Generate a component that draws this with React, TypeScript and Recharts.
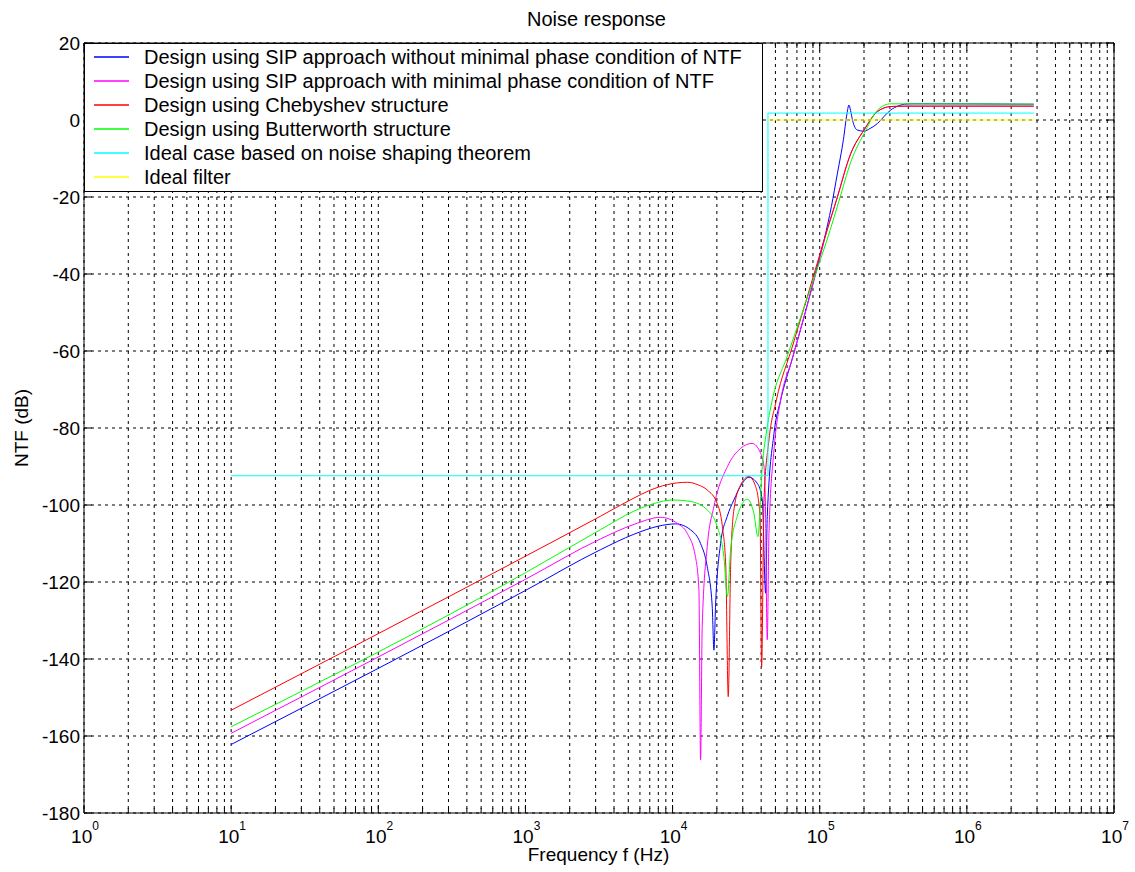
import React from "react";
import {
  LineChart,
  Line,
  XAxis,
  YAxis,
  CartesianGrid,
  ReferenceLine,
} from "recharts";

// frequency (Hz) / NTF (dB), one pair of arrays per curve
const BLUE_F = [10, 1000, 3240, 5460, 8000, 10500, 13300, 15500, 17200, 18600, 19100, 19600, 21200, 23500, 26100, 29500, 33000, 37700, 40700, 42900, 44000, 48900, 54300, 65000, 80000, 100000, 107000, 120000, 132000, 145000, 153000, 158000, 162000, 167000, 180000, 200000, 220000, 247000, 275000, 304000, 340000, 375000, 440000, 2850000];
const BLUE_DB = [-162.2, -122.2, -111.6, -107.6, -105.5, -104.9, -106.5, -110, -116, -126.4, -137.7, -126, -110, -103, -98.7, -94.6, -92.8, -94.4, -98.7, -122.9, -103, -81.4, -72.7, -62.1, -49.8, -35.5, -31.2, -22.5, -13.8, -5, 1.5, 3.9, 2.5, 0, -2.6, -2.9, -2.2, -0.9, 1, 2.6, 3.6, 4.1, 4.2, 4.1];

const MAGENTA_F = [10, 1000, 3240, 5500, 8280, 10800, 12600, 14300, 15100, 15500, 15900, 17200, 19100, 23600, 29000, 34700, 39700, 41800, 42700, 44000, 45200, 48900, 54300, 65000, 80000, 100000, 107000, 130000, 163000, 200000, 247000, 304000, 400000, 2850000];
const MAGENTA_DB = [-159.3, -119.3, -108.8, -105, -103.2, -104.8, -107.4, -113.4, -122, -166.2, -131.6, -110.8, -100.4, -90, -85.3, -84, -86.6, -90, -98.7, -135, -107.3, -85.7, -72.7, -62.1, -49.8, -36, -31.5, -20.8, -8.6, -2.6, 2.2, 3.5, 3.6, 3.6];

const RED_F = [10, 1000, 3240, 5460, 7000, 9200, 12600, 15000, 17200, 20100, 21800, 23000, 23900, 24800, 26100, 29000, 33000, 36700, 39300, 40300, 41800, 45200, 50800, 65000, 80000, 100000, 107000, 130000, 163000, 200000, 247000, 304000, 400000, 2850000];
const RED_DB = [-153.3, -113.3, -102.9, -98.2, -96.2, -94.7, -94.1, -94.8, -96.1, -99.6, -105.6, -116, -149.8, -116, -101.3, -94.8, -92.6, -95.2, -103, -142, -98.7, -83.1, -72.7, -59, -47.5, -35, -31.2, -20.8, -8.6, -2.6, 2.2, 3.5, 3.6, 3.6];

const GREEN_F = [10, 1000, 3240, 5460, 7500, 10000, 13300, 17200, 20100, 22300, 23600, 24800, 27500, 32200, 35700, 38000, 40700, 44000, 47600, 60000, 80000, 100000, 112000, 135000, 163000, 206000, 247000, 304000, 2850000];
const GREEN_DB = [-157.6, -117.6, -106.4, -101.6, -99.6, -98.7, -99.1, -101.3, -105.6, -113.4, -123.8, -111.7, -103, -98.5, -102.2, -108.2, -90, -79.7, -72.7, -61.5, -47.6, -36.8, -31.2, -21.1, -10.8, -2.6, 2.6, 4.2, 4.1];

const CYAN_F = [10, 44500, 44500, 2850000];
const CYAN_DB = [-92.4, -92.4, 1.8, 1.8];

const YELLOW_F = [44500, 2850000];
const YELLOW_DB = [0, 0];

const LEGEND_NAMES = [
  "Design using SIP approach without minimal phase condition of NTF",
  "Design using SIP approach with minimal phase condition of NTF",
  "Design using Chebyshev structure",
  "Design using Butterworth structure",
  "Ideal case based on noise shaping theorem",
  "Ideal filter",
];
const COLORS = ["#0000ff", "#ff00ff", "#ff0000", "#00ff00", "#00ffff", "#ffff00"];

const Y_TICKS = [-180, -160, -140, -120, -100, -80, -60, -40, -20, 0, 20];
const X_TICKS: number[] = [];
for (let k = 0; k < 7; k++) {
  for (let m = 1; m < 10; m++) X_TICKS.push(m * Math.pow(10, k));
}
X_TICKS.push(1e7);

const W = 1135;
const H = 872;
const TOP = 43;
const LEFT = 84;
const RIGHT = 21;
const BOTTOM = 59;
const FONT = "'Liberation Sans', Arial, Helvetica, sans-serif";

const zip = (f: number[], db: number[]) => f.map((x, i) => ({ f: x, db: db[i] }));

const SERIES = [
  zip(BLUE_F, BLUE_DB),
  zip(MAGENTA_F, MAGENTA_DB),
  zip(RED_F, RED_DB),
  zip(GREEN_F, GREEN_DB),
  zip(CYAN_F, CYAN_DB),
  zip(YELLOW_F, YELLOW_DB),
];

function XTick(props: any) {
  const { x, y, payload } = props;
  const k = Math.log10(payload.value);
  const major = Math.abs(k - Math.round(k)) < 1e-9;
  const len = major ? 8 : 5;
  return (
    <g>
      <line x1={x} y1={y} x2={x} y2={y - len} stroke="#000" />
      <line x1={x} y1={TOP} x2={x} y2={TOP + len} stroke="#000" />
      {major && (
        <text x={x + 1} y={y + 30} textAnchor="middle" fontSize={19} fontFamily={FONT} fill="#000">
          <tspan>10</tspan>
          <tspan dy={-13} fontSize={12}>{Math.round(k)}</tspan>
        </text>
      )}
    </g>
  );
}

function YTick(props: any) {
  const { x, y, payload } = props;
  const right = W - RIGHT;
  return (
    <g>
      <line x1={x} y1={y} x2={x + 8} y2={y} stroke="#000" />
      <line x1={right} y1={y} x2={right - 8} y2={y} stroke="#000" />
      <text x={x - 4} y={y} dy="0.36em" textAnchor="end" fontSize={19} fontFamily={FONT} fill="#000">
        {payload.value}
      </text>
    </g>
  );
}

export default function App() {
  return (
    <div
      style={{
        position: "absolute",
        left: 0,
        top: 0,
        width: W,
        height: H,
        background: "#fff",
        fontFamily: FONT,
      }}
    >
      <LineChart
        width={W}
        height={H}
        margin={{ top: TOP, right: RIGHT, bottom: 0, left: 0 }}
      >
        <CartesianGrid stroke="#000" strokeDasharray="3 4" strokeWidth={1} />
        <XAxis
          dataKey="f"
          type="number"
          scale="log"
          domain={[1, 1e7]}
          allowDataOverflow
          ticks={X_TICKS}
          interval={0}
          height={BOTTOM}
          tickSize={0}
          tickMargin={0}
          tickLine={false}
          axisLine={{ stroke: "#000" }}
          tick={<XTick />}
        />
        <YAxis
          type="number"
          domain={[-180, 20]}
          allowDataOverflow
          ticks={Y_TICKS}
          interval={0}
          width={LEFT}
          tickSize={0}
          tickMargin={0}
          tickLine={false}
          axisLine={{ stroke: "#000" }}
          tick={<YTick />}
        />
        <ReferenceLine x={1e7} stroke="#000" />
        <ReferenceLine y={20} stroke="#000" />
        {SERIES.map((d, i) => (
          <Line
            key={i}
            data={d}
            dataKey="db"
            type={i < 4 ? "monotone" : "linear"}
            stroke={COLORS[i]}
            strokeWidth={1}
            dot={false}
            activeDot={false}
            isAnimationActive={false}
          />
        ))}
      </LineChart>

      <div
        style={{
          position: "absolute",
          left: 0,
          width: W,
          top: 9,
          textAlign: "center",
          fontSize: 20,
          lineHeight: "20px",
          paddingLeft: 58,
          boxSizing: "border-box",
        }}
      >
        Noise response
      </div>
      <div
        style={{
          position: "absolute",
          left: 0,
          width: W,
          top: 845,
          textAlign: "center",
          fontSize: 19,
          lineHeight: "19px",
          paddingLeft: 62,
          boxSizing: "border-box",
        }}
      >
        Frequency f (Hz)
      </div>
      <div
        style={{
          position: "absolute",
          left: 22 - 60,
          top: 428 - 10,
          width: 120,
          height: 20,
          lineHeight: "20px",
          textAlign: "center",
          fontSize: 19,
          transform: "rotate(-90deg)",
        }}
      >
        NTF (dB)
      </div>

      <div
        style={{
          position: "absolute",
          left: LEFT,
          top: TOP,
          width: 679,
          height: 149,
          boxSizing: "border-box",
          border: "1px solid #000",
          background: "#fff",
          paddingTop: 1,
        }}
      >
        {LEGEND_NAMES.map((name, i) => (
          <div
            key={name}
            style={{ display: "flex", alignItems: "center", height: 24, fontSize: 20 }}
          >
            <svg width={35} height={4} style={{ marginLeft: 9, display: "block" }}>
              <line x1={0} y1={2} x2={35} y2={2} stroke={COLORS[i]} strokeWidth={1.5} />
            </svg>
            <div style={{ marginLeft: 15, whiteSpace: "nowrap" }}>{name}</div>
          </div>
        ))}
      </div>
    </div>
  );
}
